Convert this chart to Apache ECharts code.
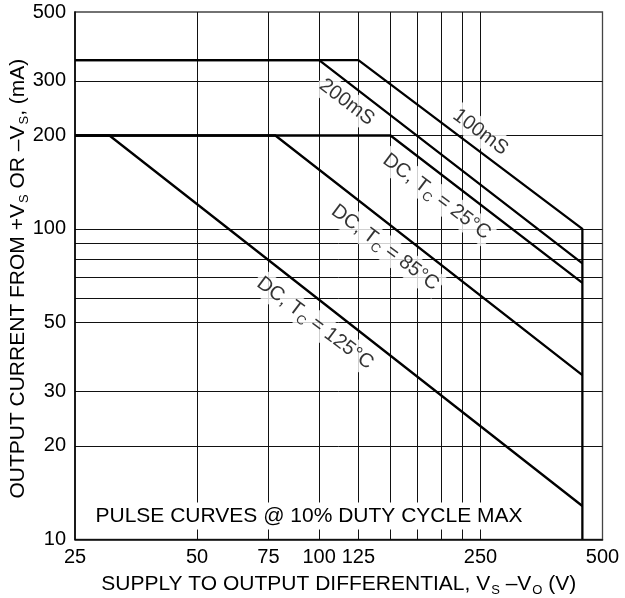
<!DOCTYPE html>
<html><head><meta charset="utf-8">
<script src="https://cdn.jsdelivr.net/npm/echarts@6/dist/echarts.min.js"></script>
<style>html,body{margin:0;padding:0;background:#fff}#c{width:625px;height:598px}</style>
</head><body><div id="c"></div>
<script>
// Axis values
const xLabelValues = [25, 50, 75, 100, 125, 250, 500];
const xGridValues = [50, 75, 100, 125, 150, 175, 200, 225, 250];
const yLabelValues = [10, 20, 30, 50, 100, 200, 300, 500];
const yGridValues = [20, 30, 50, 60, 70, 80, 90, 100, 200, 300];

// Curves: [volts, mA]
const curve100ms = [[25, 350], [125, 350], [446, 100], [446, 10]];
const curve200ms = [[25, 350], [100, 350], [446, 77.5]];
const curveDC25 = [[25, 200], [150, 200], [446, 67]];
const curveDC85 = [[25, 200], [78, 200], [446, 33.8]];
const curveDC125 = [[25, 200], [30.4, 200], [446, 12.8]];

// Curve captions and their anchor points (data coordinates)
const captionTexts = ['200mS', '100mS', 'DC, T{s|C} = 25°C', 'DC, T{s|C} = 85°C', 'DC, T{s|C} = 125°C'];
const captionAnchors = [[117, 256], [250, 205], [195, 127], [145.5, 87], [97.7, 49.7]];
const noteText = 'PULSE CURVES @ 10% DUTY CYCLE MAX';

const FONT = '"Liberation Sans", Arial, Helvetica, sans-serif';
const chart = echarts.init(document.getElementById('c'), null, {renderer: 'canvas'});

function lineSeries(data) {
  return {
    type: 'line', data: data, symbol: 'none', silent: true, z: 5,
    lineStyle: {color: '#000', width: 2.3}, animation: false
  };
}

const option = {
  animation: false,
  backgroundColor: '#fff',
  grid: {left: 75, right: 22.5, top: 12, bottom: 58.7, containLabel: false, outerBoundsMode: 'none',
    show: true, borderColor: '#444', borderWidth: 1.3},
  xAxis: {
    type: 'log', logBase: 10, min: 25, max: 500,
    axisLine: {show: true, lineStyle: {color: '#000', width: 1.6}},
    axisTick: {show: false, customValues: xGridValues},
    splitLine: {show: true, lineStyle: {color: '#111', width: 1}},
    minorTick: {show: false}, minorSplitLine: {show: false},
    axisLabel: {customValues: xLabelValues, formatter: v => String(Math.round(v)),
      color: '#000', fontSize: 20, fontFamily: FONT, margin: 8},
    name: '{t|SUPPLY TO OUTPUT DIFFERENTIAL, V}{s|S}{t| –V}{s|O}{t| (V)}',
    nameLocation: 'middle', nameGap: 32, nameMoveOverlap: false,
    nameTextStyle: {rich: {
      t: {fontSize: 21, fontFamily: FONT, color: '#000', lineHeight: 26},
      s: {fontSize: 13, fontFamily: FONT, color: '#000', lineHeight: 13, padding: [13, 0, 0, 1]}
    }}
  },
  yAxis: {
    type: 'log', logBase: 10, min: 10, max: 500,
    axisLine: {show: true, lineStyle: {color: '#000', width: 1.6}},
    axisTick: {show: false, customValues: yGridValues},
    splitLine: {show: true, lineStyle: {color: '#111', width: 1}},
    minorTick: {show: false}, minorSplitLine: {show: false},
    axisLabel: {customValues: yLabelValues, formatter: v => String(Math.round(v)),
      color: '#000', fontSize: 20, fontFamily: FONT, margin: 9},
    name: '{t|OUTPUT CURRENT FROM +V}{s|S}{t| OR –V}{s|S}{t|, (mA)}',
    nameLocation: 'middle', nameGap: 44, nameRotate: 90, nameMoveOverlap: false,
    nameTextStyle: {padding: [0, 6, 0, 0], rich: {
      t: {fontSize: 21, fontFamily: FONT, color: '#000', lineHeight: 26},
      s: {fontSize: 13, fontFamily: FONT, color: '#000', lineHeight: 13, padding: [13, 0, 0, 1]}
    }}
  },
  graphic: [{
    type: 'text', x: 309, y: 516, z: 100,
    style: {text: noteText, font: '21px ' + FONT, fill: '#000', align: 'center', verticalAlign: 'middle',
      backgroundColor: '#fff', padding: [3, 5]}
  }],
  series: [
    lineSeries(curve100ms), lineSeries(curve200ms), lineSeries(curveDC25),
    lineSeries(curveDC85), lineSeries(curveDC125),
    {
      type: 'scatter', symbol: 'circle', symbolSize: 1, z: 4, silent: true,
      itemStyle: {color: 'rgba(0,0,0,0)'},
      data: captionAnchors.map((p, i) => ({value: p, name: captionTexts[i]})),
      label: {
        show: true, position: 'inside', rotate: -37, formatter: p => '{t|' + p.name.replace('{s|C}', '}{s|C}{t|') + '}',
        backgroundColor: '#fff', padding: [0, 3],
        rich: {
          t: {fontSize: 20, fontFamily: FONT, color: '#000', lineHeight: 26},
          s: {fontSize: 13, fontFamily: FONT, color: '#000', lineHeight: 13, padding: [13, 0, 0, 0]}
        }
      }
    }
  ]
};
chart.setOption(option);
</script>
</body></html>
